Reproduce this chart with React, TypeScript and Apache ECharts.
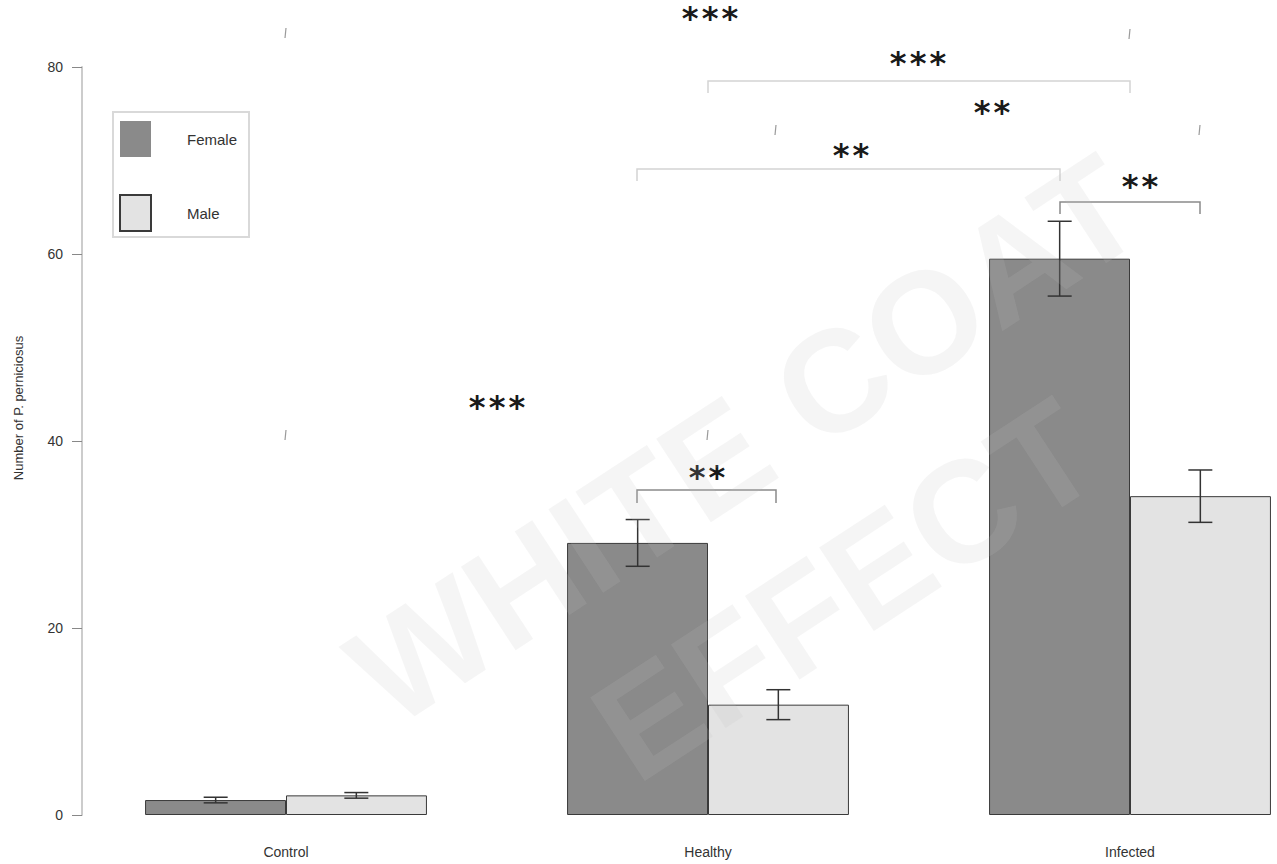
import React, { useEffect, useRef } from "react";
import * as echarts from "echarts";

const categories = ["Control", "Healthy", "Infected"];
const femaleMeans = [1.6, 29.1, 59.5];
const femaleErrors = [0.3, 2.5, 4.0];
const maleMeans = [2.1, 11.8, 34.1];
const maleErrors = [0.3, 1.6, 2.8];
const yMin = 0;
const yMax = 80;
const yStep = 20;
const seriesNames = ["Female", "Male"];
const yTitle = "Number of P. perniciosus";
const watermarkLines = ["WHITE COAT", "EFFECT"];

// significance annotations (layout, in pixels)
const starLabels = [
  { text: "***", x: 710, y: 18 },
  { text: "***", x: 918, y: 63 },
  { text: "**", x: 992, y: 112 },
  { text: "**", x: 851, y: 155 },
  { text: "**", x: 1140, y: 186 },
  { text: "**", x: 707, y: 477 },
  { text: "***", x: 497, y: 407 },
];
const brackets = [
  { x1: 708, x2: 1130, y: 81, drop: 12, color: "#d4d4d4" },
  { x1: 637, x2: 1060, y: 169, drop: 12, color: "#d4d4d4" },
  { x1: 1060, x2: 1200, y: 202, drop: 12, color: "#8a8a8a" },
  { x1: 637, x2: 776, y: 490, drop: 13, color: "#8a8a8a" },
];
const stubs = [
  { x: 286, y: 28 },
  { x: 1130, y: 29 },
  { x: 776, y: 125 },
  { x: 1200, y: 125 },
  { x: 286, y: 430 },
  { x: 708, y: 430 },
];

export default function App() {
  const ref = useRef<HTMLDivElement>(null);
  useEffect(() => {
    if (!ref.current) return;
    const chart = echarts.init(ref.current, undefined, { renderer: "svg" });

    const errData = (means: number[], errs: number[]) =>
      means.map((m, i) => [i, m, errs[i]]);

    const makeErr = (side: number) => (params: any, api: any) => {
      const ci = api.value(0);
      const m = api.value(1);
      const e = api.value(2);
      const band = api.size([1, 0])[0];
      const off = (band / 6) * side;
      const top = api.coord([ci, m + e]);
      const bot = api.coord([ci, m - e]);
      const x = top[0] + off;
      const cap = 12;
      const st = { stroke: "#333", lineWidth: 1.5 };
      return {
        type: "group",
        children: [
          { type: "line", shape: { x1: x, y1: top[1], x2: x, y2: bot[1] }, style: st },
          { type: "line", shape: { x1: x - cap, y1: top[1], x2: x + cap, y2: top[1] }, style: st },
          { type: "line", shape: { x1: x - cap, y1: bot[1], x2: x + cap, y2: bot[1] }, style: st },
        ],
      };
    };

    const graphics: any[] = [];
    const wmStyle = {
      fontSize: 145,
      fontWeight: "bold",
      fontFamily: "Liberation Sans",
      fill: "rgba(190,190,190,0.16)",
      align: "center",
      verticalAlign: "middle",
    };
    graphics.push({
      type: "text",
      x: 745,
      y: 440,
      rotation: 0.58,
      silent: true,
      z: 100,
      style: { ...wmStyle, text: watermarkLines[0] },
    });
    graphics.push({
      type: "text",
      x: 845,
      y: 590,
      rotation: 0.58,
      silent: true,
      z: 100,
      style: { ...wmStyle, text: watermarkLines[1] },
    });
    graphics.push({
      type: "text",
      x: 18,
      y: 408,
      rotation: Math.PI / 2,
      style: {
        text: yTitle,
        fontSize: 13,
        fontFamily: "Liberation Sans",
        fill: "#333",
        align: "center",
        verticalAlign: "middle",
      },
    });
    brackets.forEach((b) => {
      graphics.push({
        type: "polyline",
        shape: {
          points: [
            [b.x1, b.y + b.drop],
            [b.x1, b.y],
            [b.x2, b.y],
            [b.x2, b.y + b.drop],
          ],
        },
        style: { stroke: b.color, lineWidth: 1.5, fill: null },
      });
    });
    stubs.forEach((s) => {
      graphics.push({
        type: "line",
        shape: { x1: s.x, y1: s.y, x2: s.x - 1, y2: s.y + 10 },
        style: { stroke: "#9a9a9a", lineWidth: 1.2 },
      });
    });
    starLabels.forEach((s) => {
      graphics.push({
        type: "text",
        x: s.x,
        y: s.y,
        style: {
          text: s.text.split("").join("\u200A"),
          fontSize: 32,
          fontWeight: "bold",
          fontFamily: "DejaVu Sans",
          fill: "#1a1a1a",
          align: "center",
          verticalAlign: "middle",
        },
      });
    });

    chart.setOption({
      animation: false,
      backgroundColor: "#ffffff",
      grid: { left: 75, right: 0, top: 67, bottom: 49 },
      legend: {
        orient: "vertical",
        left: 113,
        top: 112,
        data: [
          { name: seriesNames[0], itemStyle: { borderWidth: 0 } },
          { name: seriesNames[1] },
        ],
        icon: "rect",
        itemWidth: 31,
        itemHeight: 36,
        itemGap: 37,
        padding: [9, 12, 5, 6],
        borderColor: "#d9d9d9",
        borderWidth: 2,
        backgroundColor: "#ffffff",
        textStyle: {
          fontSize: 15,
          color: "#333",
          fontFamily: "Liberation Sans",
          padding: [0, 0, 0, 31],
        },
        selectedMode: false,
      },
      xAxis: {
        type: "category",
        data: categories,
        axisLine: { show: false },
        axisTick: { show: false },
        axisLabel: { fontSize: 14, color: "#333", margin: 30, fontFamily: "Liberation Sans" },
      },
      yAxis: {
        type: "value",
        min: yMin,
        max: yMax,
        interval: yStep,
        offset: -7,
        axisLine: { show: true, lineStyle: { color: "#cccccc", width: 2 } },
        axisTick: { show: true, length: 10, lineStyle: { color: "#888", width: 1 } },
        axisLabel: { fontSize: 14, color: "#333", margin: 19, fontFamily: "Liberation Sans" },
        splitLine: { show: false },
      },
      series: [
        {
          name: seriesNames[0],
          type: "bar",
          data: femaleMeans,
          barWidth: "33.4%",
          barGap: "0%",
          itemStyle: { color: "#8a8a8a", borderColor: "#3a3a3a", borderWidth: 1 },
        },
        {
          name: seriesNames[1],
          type: "bar",
          data: maleMeans,
          barWidth: "33.4%",
          barGap: "0%",
          itemStyle: { color: "#e3e3e3", borderColor: "#3a3a3a", borderWidth: 1 },
        },
        {
          name: "femaleErr",
          type: "custom",
          renderItem: makeErr(-1),
          data: errData(femaleMeans, femaleErrors),
          encode: { x: 0, y: 1 },
          clip: false,
          z: 5,
        },
        {
          name: "maleErr",
          type: "custom",
          renderItem: makeErr(1),
          data: errData(maleMeans, maleErrors),
          encode: { x: 0, y: 1 },
          clip: false,
          z: 5,
        },
      ],
      graphic: graphics,
    });
    return () => chart.dispose();
  }, []);
  return (
    <div
      style={{
        position: "fixed",
        left: 0,
        top: 0,
        width: 1277,
        height: 864,
        overflow: "hidden",
        background: "#fff",
      }}
    >
      <div ref={ref} style={{ width: 1341, height: 864 }} />
    </div>
  );
}
